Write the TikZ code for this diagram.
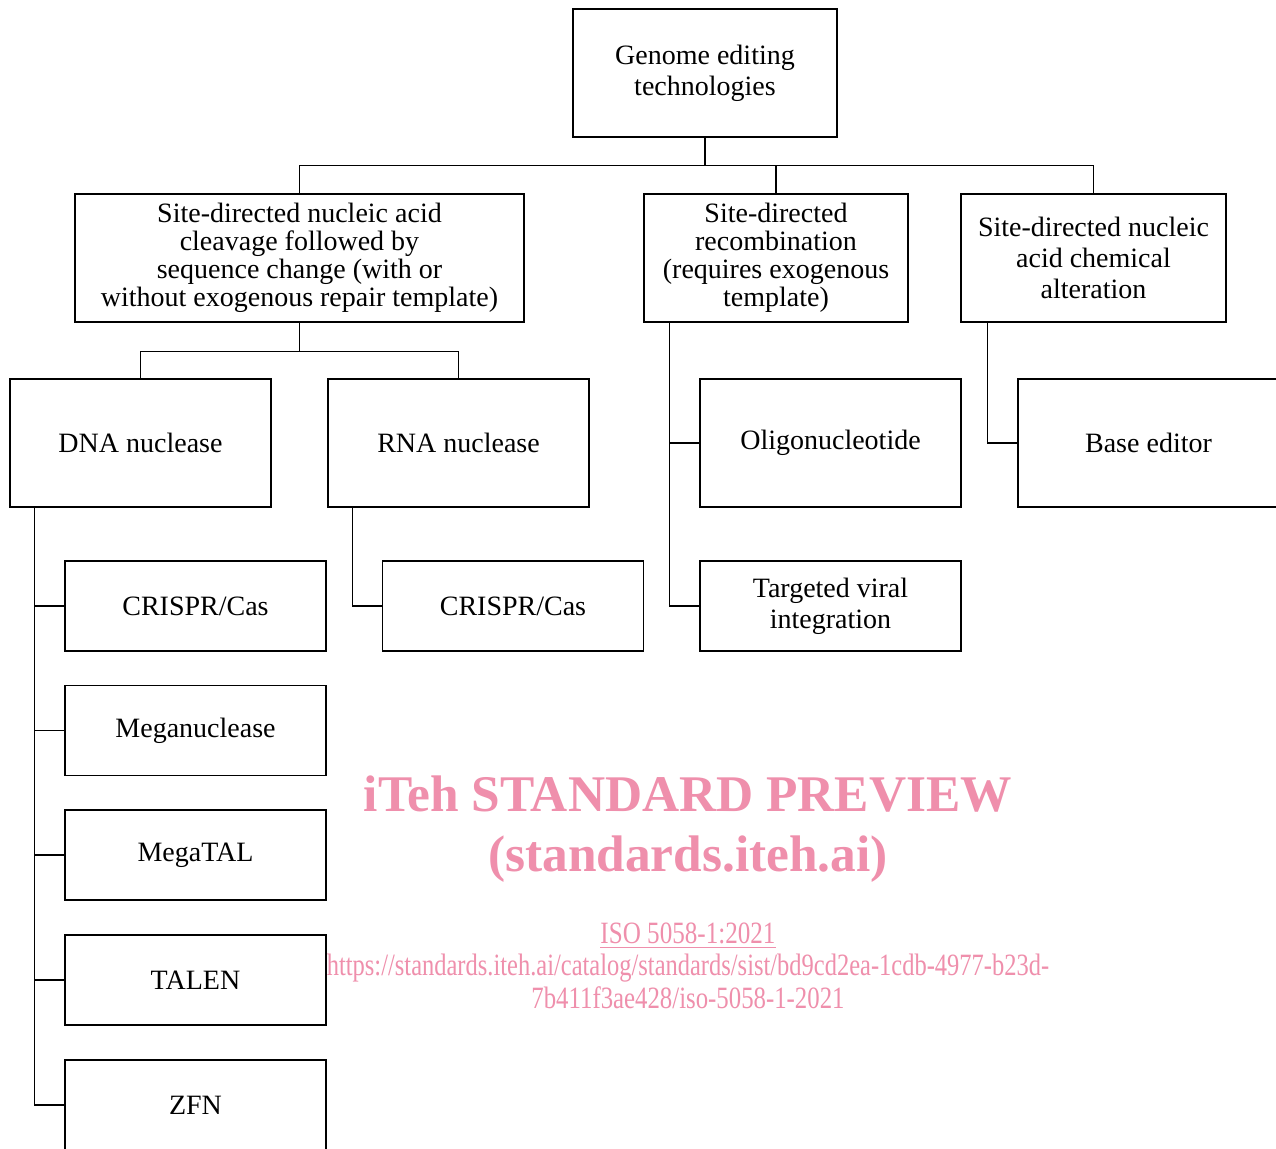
\documentclass[tikz,border=0pt]{standalone}
\usepackage{fontspec}
\usepackage{graphicx}
\setmainfont{Liberation Serif}
\usetikzlibrary{calc}
\definecolor{wm}{RGB}{239,143,172}
\tikzset{
  box/.style={draw, line width=0.6pt, align=center, inner sep=2pt,
    font=\fontsize{14pt}{15.5pt}\selectfont},
  tight/.style={font=\fontsize{14pt}{14pt}\selectfont},
  big/.style={box, minimum width=130.5pt, minimum height=64pt},
  small/.style={box, minimum width=130.5pt, minimum height=45pt},
  link/.style={line width=0.6pt},
  wmbig/.style={text=wm, font=\fontsize{25.7pt}{30pt}\selectfont\bfseries, anchor=base, inner sep=0pt},
  wmsmall/.style={text=wm, font=\fontsize{15.5pt}{16pt}\selectfont, anchor=base, inner sep=0pt}
}
\begin{document}
\begin{tikzpicture}[x=0.5pt, y=-0.5pt]
\clip (0,0) rectangle (1276,1149);
\fill[white] (0,0) rectangle (1276,1149);

% level 0
\node[box, minimum width=132pt, minimum height=64pt] (root) at (705,73) {Genome editing\\technologies};

% level 1
\node[box, tight, minimum width=224.5pt, minimum height=64pt] (A) at (299.5,258)
  {Site-directed nucleic acid\\cleavage followed by\\sequence change (with or\\without exogenous repair template)};
\node[box, tight, minimum width=132pt, minimum height=64pt] (B) at (776,258)
  {Site-directed\\recombination\\(requires exogenous\\template)};
\node[box, minimum width=132.5pt, minimum height=64pt] (C) at (1093.5,258)
  {Site-directed nucleic\\acid chemical\\alteration};

% level 2
\node[big] (dna) at (140.5,443) {DNA nuclease};
\node[big] (rna) at (458.5,443) {RNA nuclease};
\node[big] (oligo) at (830.5,443) {Oligonucleotide};
\node[big] (base) at (1148.5,443) {Base editor};

% level 3
\node[small] (crispr1) at (195.5,606) {CRISPR/Cas};
\node[small] (mega) at (195.5,730.5) {Meganuclease};
\node[small] (megatal) at (195.5,855) {MegaTAL};
\node[small] (talen) at (195.5,980) {TALEN};
\node[small] (zfn) at (195.5,1105) {ZFN};
\node[small] (crispr2) at (513,606) {CRISPR/Cas};
\node[small] (viral) at (830.5,606) {Targeted viral\\integration};

% connectors
\draw[link] (root.south) -- ++(0,28) coordinate (j1);
\draw[link] (j1) -| (A.north);
\draw[link] (j1) -| (B.north);
\draw[link] (j1) -| (C.north);

\draw[link] (A.south) -- ++(0,29) coordinate (j2);
\draw[link] (j2) -| (dna.north);
\draw[link] (j2) -| (rna.north);

\coordinate (dv) at ($(dna.south west)+(25,0)$);
\draw[link] (dv) |- (crispr1.west);
\draw[link] (dv) |- (mega.west);
\draw[link] (dv) |- (megatal.west);
\draw[link] (dv) |- (talen.west);
\draw[link] (dv) |- (zfn.west);

\coordinate (rv) at ($(rna.south west)+(25,0)$);
\draw[link] (rv) |- (crispr2.west);

\coordinate (bv) at ($(B.south west)+(26,0)$);
\draw[link] (bv) |- (oligo.west);
\draw[link] (bv) |- (viral.west);

\coordinate (cv) at ($(C.south west)+(27,0)$);
\draw[link] (cv) |- (base.west);

% watermark
\node[wmbig] (wm1) at (688,812) {iTeh STANDARD PREVIEW};
\node[wmbig] (wm2) at (688,872) {(standards.iteh.ai)};
\node[wmsmall] (wm3) at (688,944) {\scalebox{0.81}[1]{\underline{ISO 5058-1:2021}}};
\node[wmsmall] (wm4) at (688,976) {\scalebox{0.79}[1]{https://standards.iteh.ai/catalog/standards/sist/bd9cd2ea-1cdb-4977-b23d-}};
\node[wmsmall] (wm5) at (688,1008) {\scalebox{0.8}[1]{7b411f3ae428/iso-5058-1-2021}};
\end{tikzpicture}
\end{document}
